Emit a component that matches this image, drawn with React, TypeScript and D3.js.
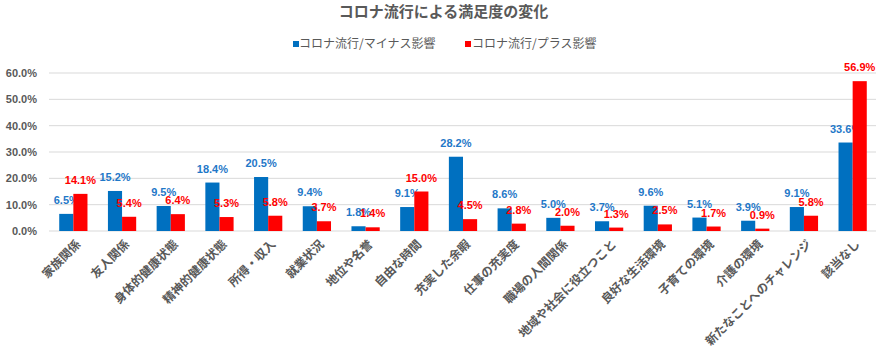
import * as d3 from 'd3';

const categories = [
  '家族関係',
  '友人関係',
  '身体的健康状態',
  '精神的健康状態',
  '所得・収入',
  '就業状況',
  '地位や名誉',
  '自由な時間',
  '充実した余暇',
  '仕事の充実度',
  '職場の人間関係',
  '地域や社会に役立つこと',
  '良好な生活環境',
  '子育ての環境',
  '介護の環境',
  '新たなことへのチャレンジ',
  '該当なし',
];

const minusValues = [6.5, 15.2, 9.5, 18.4, 20.5, 9.4, 1.8, 9.1, 28.2, 8.6, 5.0, 3.7, 9.6, 5.1, 3.9, 9.1, 33.6];
const plusValues = [14.1, 5.4, 6.4, 5.3, 5.8, 3.7, 1.4, 15.0, 4.5, 2.8, 2.0, 1.3, 2.5, 1.7, 0.9, 5.8, 56.9];

const seriesNames = ['コロナ流行/マイナス影響', 'コロナ流行/プラス影響'];
const yTicks = [0, 10, 20, 30, 40, 50, 60];

const title = 'コロナ流行による満足度の変化';

const W = 887;
const H = 350;
const BLUE = '#0070C0';
const RED = '#FF0000';
const GRAY = '#595959';
const JP = '"Noto Sans CJK JP", "Noto Sans", sans-serif';
const NUM = '"Liberation Sans", Arial, sans-serif';

export default function App() {
  const margin = { top: 73, right: 10, bottom: 119, left: 49 };

  const x0 = d3
    .scaleBand<string>()
    .domain(categories)
    .range([margin.left, W - margin.right])
    .paddingInner(0.42)
    .paddingOuter(0.21);

  const x1 = d3.scaleBand<number>().domain([0, 1]).range([0, x0.bandwidth()]);

  const y = d3
    .scaleLinear()
    .domain([0, 60])
    .range([H - margin.bottom, margin.top]);

  const series = [minusValues, plusValues];
  const colors = [BLUE, RED];
  const labelColors = ['#1F78C8', RED];

  return (
    <svg
      width={W}
      height={H}
      style={{ position: 'absolute', left: 0, top: 0, background: '#fff' }}
    >
      <text
        x={W / 2}
        y={17}
        textAnchor="middle"
        fill={GRAY}
        style={{ font: `bold 15px ${JP}` }}
      >
        {title}
      </text>

      {/* legend */}
      <g style={{ font: `12px ${JP}` }} fill={GRAY}>
        <rect x={293} y={41} width={6} height={6} fill={BLUE} />
        <text x={299} y={48}>{seriesNames[0]}</text>
        <rect x={465} y={41} width={6} height={6} fill={RED} />
        <text x={472} y={48}>{seriesNames[1]}</text>
      </g>

      {/* grid + y axis */}
      {yTicks.map((t) => (
        <g key={t}>
          <line
            x1={margin.left}
            x2={W - margin.right - 1}
            y1={y(t)}
            y2={y(t)}
            stroke="#D9D9D9"
            strokeWidth={1}
          />
          <text
            x={37}
            y={y(t)}
            dy="0.35em"
            textAnchor="end"
            fill={GRAY}
            style={{ font: `bold 11px ${NUM}` }}
          >
            {t.toFixed(1)}%
          </text>
        </g>
      ))}

      {/* bars and labels, series by series so red covers blue labels */}
      {series.map((vals, si) => (
        <g key={si}>
          {vals.map((v, i) => {
            const bx = (x0(categories[i]) ?? 0) + (x1(si) ?? 0);
            return (
              <rect
                key={i}
                x={bx}
                y={y(v)}
                width={x1.bandwidth()}
                height={y(0) - y(v)}
                fill={colors[si]}
              />
            );
          })}
          {vals.map((v, i) => {
            const cx = (x0(categories[i]) ?? 0) + (x1(si) ?? 0) + x1.bandwidth() / 2;
            return (
              <text
                key={i}
                x={cx}
                y={y(v) - 10}
                textAnchor="middle"
                fill={labelColors[si]}
                style={{ font: `bold 11px ${NUM}` }}
              >
                {v.toFixed(1)}%
              </text>
            );
          })}
        </g>
      ))}

      {/* x labels */}
      {categories.map((c) => {
        const cx = (x0(c) ?? 0) + x0.bandwidth() / 2 + 5;
        const cy = y(0) + 11;
        return (
          <text
            key={c}
            transform={`translate(${cx},${cy}) rotate(-45)`}
            textAnchor="end"
            dy="0.35em"
            fill={GRAY}
            style={{ font: `bold 12px ${JP}` }}
          >
            {c}
          </text>
        );
      })}
    </svg>
  );
}
